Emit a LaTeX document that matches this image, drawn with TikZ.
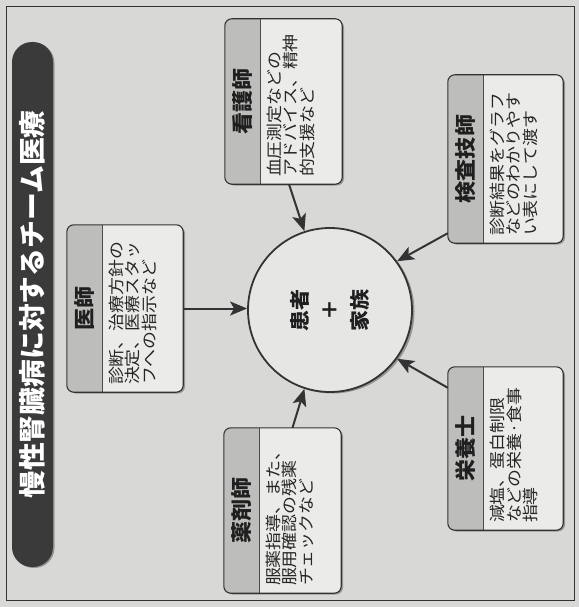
\documentclass[tikz,border=0pt]{standalone}
\usepackage{fontspec}
\newfontfamily\jp{Noto Sans CJK JP}
\usetikzlibrary{arrows.meta,shadows}
\definecolor{bgc}{HTML}{D8D8D6}
\definecolor{boxfill}{HTML}{EBEBE9}
\definecolor{headfill}{HTML}{BDBDBB}
\definecolor{circfill}{HTML}{E6E6E4}
\definecolor{titlefill}{HTML}{3A3A3A}
\definecolor{linec}{HTML}{333333}
\tikzset{
  boxbody/.style={draw=none, fill=boxfill, rounded corners=7pt, inner sep=0pt,
    drop shadow={shadow xshift=2pt, shadow yshift=-1.5pt, opacity=.3, fill=black}},
  boxline/.style={draw=linec, line width=1.1pt, rounded corners=7pt},
  sepline/.style={draw=black!70, line width=0.8pt},
  headtext/.style={rotate=90, xscale=1.05, inner sep=0pt, font=\jp\bfseries\fontsize{21}{21}\selectfont, text=black!88},
  bodytext/.style={rotate=90, xscale=1.12, anchor=north west, align=left, inner sep=0pt,
    font=\jp\fontsize{16}{16.5}\selectfont, text=black!85},
  arr/.style={draw=linec, line width=2pt, -{Stealth[length=17pt,width=14pt,inset=4pt]}},
}
\newcommand\teambox[7]{%
  \node[boxbody, minimum width=#4pt, minimum height=#5pt] (#1) at (#2,#3) {};
  \begin{scope}
    \clip[rounded corners=7pt] (#1.south west) rectangle (#1.north east);
    \fill[headfill] (#1.south west) rectangle ([xshift=36pt]#1.north west);
  \end{scope}
  \draw[sepline] ([xshift=36pt]#1.south west) -- ([xshift=36pt]#1.north west);
  \draw[boxline] (#1.south west) rectangle (#1.north east);
  \node[headtext] (#1-h) at ([xshift=18pt]#1.west) {#6};
  \node[bodytext] (#1-b) at ([xshift=42pt,yshift=7pt]#1.south west) {#7};
}
\begin{document}
\begin{tikzpicture}[x=1pt,y=-1pt]
\useasboundingbox (0,0) rectangle (579,607);
\fill[bgc] (0,0) rectangle (579,607);
\draw[linec, line width=0.9pt] (6,6) rectangle (574,600);
% title
\node[fill=titlefill, rounded corners=20pt, minimum width=41pt, minimum height=525pt, inner sep=0pt,
  drop shadow={shadow xshift=1.5pt, shadow yshift=-1pt, opacity=.3, fill=black}] (title) at (32.5,304.5) {};
\node[rotate=90, xscale=1.03, text=white, inner sep=0pt, font=\jp\bfseries\fontsize{27}{27}\selectfont] (title-t) at (title) {慢性腎臓病に対するチーム医療};
% centre
\node[circle, draw=linec, line width=1.8pt, fill=circfill, minimum size=164pt, inner sep=0pt,
  drop shadow={shadow xshift=2.5pt, shadow yshift=-1.5pt, opacity=.3, fill=black}] (pt) at (330,310) {};
\node[rotate=90, xscale=1.05, align=center, inner sep=0pt, font=\jp\bfseries\fontsize{20}{30}\selectfont, text=black!88] (pt-t) at (pt) {患者\\＋\\家族};
% boxes
\teambox{ishi}{125}{308.5}{116}{167}{医師}{診断、治療方針の\\決定、医療スタッ\\フへの指示など}
\teambox{kango}{283.5}{101.5}{117}{165}{看護師}{血圧測定などの\\アドバイス、精神\\的支援など}
\teambox{kensa}{505.5}{159}{115}{168}{検査技師}{診断結果をグラフ\\などのわかりやす\\い表にして渡す}
\teambox{eiyo}{505.5}{448.5}{115}{163}{栄養士}{減塩、蛋白制限\\などの栄養·食事\\指導}
\teambox{yaku}{282.5}{510.5}{117}{165}{薬剤師}{服薬指導、また、\\服用確認の残薬\\チェックなど}
% arrows
\draw[arr] (ishi.east) -- (ishi.east -| pt.west);
\draw[arr] ([xshift=5.5pt]kango.south) -- (pt.108);
\draw[arr] ([yshift=10pt]kensa.south west) -- (pt.36);
\draw[arr] ([yshift=-21pt]eiyo.north west) -- (pt.-36);
\draw[arr] ([xshift=10pt]yaku.north) -- (pt.-108);
\end{tikzpicture}
\end{document}
